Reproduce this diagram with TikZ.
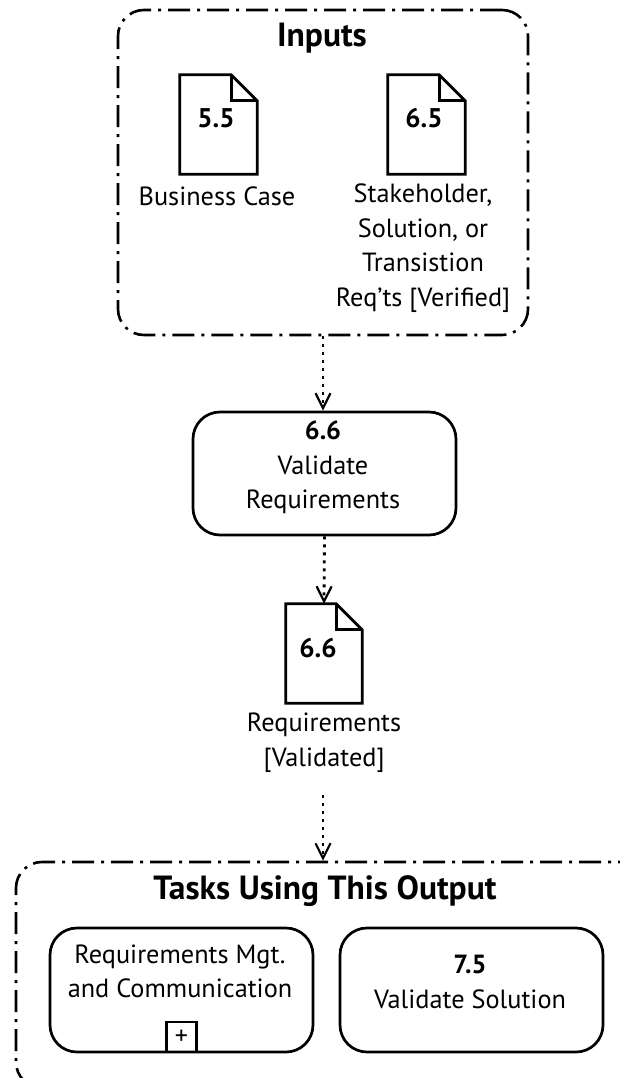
\documentclass[tikz,border=0pt]{standalone}
\usepackage{fontspec}
\setmainfont{PT Sans}
\usetikzlibrary{arrows.meta}
\begin{document}
\begin{tikzpicture}[x=1pt,y=-1pt,
  txt/.style={font=\fontsize{26.3}{34.5}\selectfont, align=center, inner sep=0pt},
  ttl/.style={font=\fontsize{33.5}{38}\selectfont\bfseries, inner sep=0pt},
  num/.style={font=\fontsize{27}{30}\selectfont\bfseries, inner sep=0pt},
  group/.style={draw, line width=2.6pt, rounded corners=26pt, dash pattern=on 22pt off 7pt on 3pt off 7pt},
  taskbox/.style={draw, line width=2.7pt, rounded corners=27pt, inner sep=0pt},
  docbox/.style={inner sep=0pt, minimum width=77pt, minimum height=99pt},
  flow/.style={line width=2.8pt, dash pattern=on 3pt off 5pt, -{Straight Barb[length=15pt,width=15pt,line width=2.2pt]}}
]
\useasboundingbox (0,0) rectangle (620,1078);
\newcommand\drawdoc[1]{\draw[line width=2.7pt, line join=miter] (#1.north west) -- ([xshift=-26pt]#1.north east) -- ([yshift=-26pt]#1.north east) -- (#1.south east) -- (#1.south west) -- cycle;
  \draw[line width=2.7pt, line join=miter] ([xshift=-26pt]#1.north east) -- ([xshift=-26pt,yshift=-26pt]#1.north east) -- ([yshift=-26pt]#1.north east);}

% Inputs group
\node[group, minimum width=410pt, minimum height=325pt] (inputs) at (323,172.5) {};
\node[ttl] (inputsttl) at (322,38) {Inputs};

\node[docbox] (doc55) at (218.5,124.5) {};
\drawdoc{doc55}
\node[num] (n55) at (216,118) {5.5};
\node[txt] (l55) at (217,196) {Business Case};

\node[docbox] (doc65) at (426.5,124.5) {};
\drawdoc{doc65}
\node[num] (n65) at (424,118) {6.5};
\node[txt] (l65) at (423,248) {Stakeholder,\\Solution, or\\Transistion\\Req'ts [Verified]};

% Task 6.6
\node[taskbox, minimum width=263pt, minimum height=123pt] (task66) at (324.5,473.5) {};
\node[txt] (t66) at (323,467.5) {\textbf{6.6}\\Validate\\Requirements};

% Output doc 6.6
\node[docbox, minimum width=76pt] (doc66) at (324,653.5) {};
\drawdoc{doc66}
\node[num] (n66) at (318,648) {6.6};
\node[txt] (l66) at (324,742.5) {Requirements\\{[Validated]}};

\coordinate (a3start) at (323,795);

% Tasks group
\begin{scope}
\clip (0,0) rectangle (620,1078);
\node[group, minimum width=650pt, minimum height=226pt] (tasks) at (341,975) {};
\end{scope}
\node[ttl] (tasksttl) at (325,891) {Tasks Using This Output};

\node[taskbox, minimum width=263pt, minimum height=124pt] (rmc) at (181.5,990) {};
\node[txt] (trmc) at (180,971.5) {Requirements Mgt.\\and Communication};
\node[draw, line width=2.4pt, minimum size=30pt, inner sep=0pt, font=\fontsize{26}{26}\selectfont, anchor=south] (plus) at (rmc.south) {+};

\node[taskbox, minimum width=263pt, minimum height=124pt] (vs) at (471.5,990) {};
\node[txt] (tvs) at (470,982) {\textbf{7.5}\\Validate Solution};

% Connectors
\draw[flow] (inputs.south) -- (inputs.south |- task66.north);
\draw[flow] (task66.south) -- (doc66.north);
\draw[flow] (a3start) -- (a3start |- tasks.north);
\end{tikzpicture}
\end{document}
